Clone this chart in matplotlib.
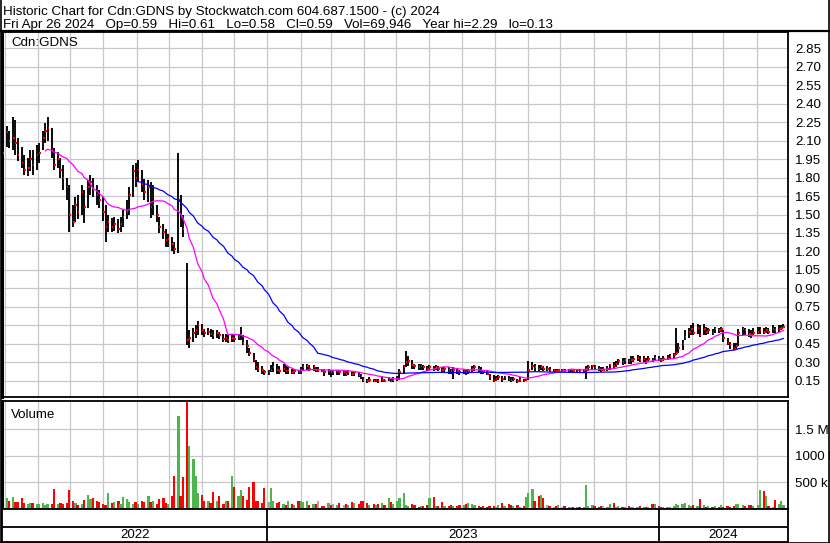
import matplotlib
matplotlib.use('Agg')
import matplotlib.pyplot as plt
import matplotlib.dates as mdates
from matplotlib.lines import Line2D
import numpy as np
import pandas as pd

plt.rcParams['font.family'] = ['Liberation Sans', 'DejaVu Sans']
plt.rcParams['font.size'] = 9

# one bar per two trading days, Apr 29 2022 .. Apr 26 2024
close = [
    2.00, 2.17, 2.10, 2.12, 2.08, 1.98, 1.92, 1.86, 1.88, 1.95,
    1.90, 1.98, 2.00, 2.12, 2.18, 2.20, 2.02, 1.90, 1.95, 1.86,
    1.80, 1.72, 1.50, 1.44, 1.58, 1.52, 1.68, 1.56, 1.72, 1.76,
    1.70, 1.66, 1.62, 1.52, 1.40, 1.44, 1.40, 1.42, 1.38, 1.42,
    1.48, 1.52, 1.66, 1.85, 1.80, 1.86, 1.75, 1.68, 1.72, 1.56,
    1.58, 1.50, 1.40, 1.36, 1.29, 1.30, 1.26, 1.22, 1.62, 1.48,
    1.38, 0.48, 0.50, 0.54, 0.56, 0.60, 0.56, 0.54, 0.55, 0.53,
    0.52, 0.54, 0.52, 0.49, 0.50, 0.48, 0.50, 0.49, 0.51, 0.52,
    0.46, 0.43, 0.38, 0.32, 0.26, 0.25, 0.24, 0.22, 0.22, 0.24,
    0.26, 0.24, 0.23, 0.25, 0.23, 0.24, 0.22, 0.23, 0.22, 0.24,
    0.26, 0.27, 0.25, 0.26, 0.24, 0.24, 0.23, 0.22, 0.23, 0.22,
    0.22, 0.23, 0.22, 0.22, 0.21, 0.22, 0.21, 0.22, 0.20, 0.19,
    0.16, 0.15, 0.16, 0.15, 0.16, 0.15, 0.16, 0.15, 0.16, 0.15,
    0.16, 0.17, 0.22, 0.26, 0.30, 0.31, 0.28, 0.27, 0.26, 0.27,
    0.26, 0.25, 0.26, 0.25, 0.26, 0.25, 0.24, 0.25, 0.24, 0.23,
    0.24, 0.23, 0.22, 0.23, 0.22, 0.23, 0.25, 0.26, 0.25, 0.23,
    0.22, 0.21, 0.18, 0.16, 0.17, 0.18, 0.17, 0.18, 0.17, 0.16,
    0.17, 0.15, 0.16, 0.15, 0.16, 0.24, 0.27, 0.26, 0.25, 0.26,
    0.25, 0.25, 0.24, 0.24, 0.23, 0.24, 0.24, 0.23, 0.24, 0.24,
    0.23, 0.24, 0.23, 0.24, 0.25, 0.26, 0.27, 0.26, 0.25, 0.24,
    0.24, 0.25, 0.28, 0.27, 0.29, 0.31, 0.30, 0.32, 0.31, 0.32,
    0.33, 0.34, 0.32, 0.33, 0.31, 0.33, 0.32, 0.34, 0.33, 0.32,
    0.33, 0.34, 0.35, 0.36, 0.38, 0.42, 0.45, 0.51, 0.55, 0.57,
    0.54, 0.58, 0.52, 0.57, 0.55, 0.56, 0.54, 0.57, 0.56, 0.57,
    0.50, 0.46, 0.44, 0.41, 0.43, 0.54, 0.57, 0.56, 0.53, 0.52,
    0.54, 0.55, 0.56, 0.55, 0.56, 0.55, 0.57, 0.56, 0.57, 0.58,
    0.59,
]
high = [
    2.24, 2.22, 2.18, 2.29, 2.27, 2.12, 2.05, 1.98, 1.96, 2.02,
    2.02, 2.06, 2.08, 2.18, 2.24, 2.29, 2.20, 2.04, 2.01, 1.96,
    1.90, 1.80, 1.74, 1.58, 1.64, 1.66, 1.74, 1.70, 1.78, 1.82,
    1.80, 1.74, 1.70, 1.64, 1.58, 1.50, 1.47, 1.48, 1.46, 1.48,
    1.54, 1.62, 1.72, 1.90, 1.92, 1.94, 1.86, 1.79, 1.78, 1.76,
    1.74, 1.58, 1.48, 1.42, 1.38, 1.34, 1.32, 1.28, 2.00, 1.66,
    1.50, 1.11, 0.56, 0.58, 0.60, 0.64, 0.61, 0.57, 0.58, 0.57,
    0.56, 0.56, 0.55, 0.53, 0.53, 0.52, 0.53, 0.52, 0.53, 0.59,
    0.52, 0.48, 0.42, 0.38, 0.32, 0.30, 0.27, 0.24, 0.24, 0.28,
    0.30, 0.29, 0.27, 0.29, 0.28, 0.27, 0.25, 0.25, 0.24, 0.26,
    0.29, 0.29, 0.28, 0.28, 0.26, 0.26, 0.25, 0.25, 0.25, 0.24,
    0.24, 0.24, 0.24, 0.23, 0.23, 0.24, 0.23, 0.23, 0.22, 0.21,
    0.18, 0.17, 0.18, 0.17, 0.17, 0.17, 0.18, 0.17, 0.18, 0.17,
    0.18, 0.19, 0.25, 0.28, 0.39, 0.35, 0.32, 0.29, 0.29, 0.29,
    0.28, 0.27, 0.28, 0.27, 0.28, 0.27, 0.26, 0.26, 0.26, 0.25,
    0.26, 0.25, 0.24, 0.25, 0.24, 0.25, 0.27, 0.28, 0.27, 0.26,
    0.24, 0.23, 0.21, 0.20, 0.19, 0.20, 0.19, 0.19, 0.19, 0.18,
    0.18, 0.17, 0.18, 0.17, 0.17, 0.31, 0.30, 0.29, 0.28, 0.28,
    0.27, 0.27, 0.26, 0.25, 0.25, 0.25, 0.25, 0.25, 0.25, 0.25,
    0.25, 0.25, 0.25, 0.25, 0.27, 0.28, 0.28, 0.28, 0.27, 0.26,
    0.26, 0.27, 0.29, 0.30, 0.31, 0.33, 0.34, 0.34, 0.33, 0.35,
    0.35, 0.36, 0.35, 0.35, 0.34, 0.35, 0.34, 0.36, 0.35, 0.34,
    0.35, 0.36, 0.37, 0.38, 0.58, 0.46, 0.48, 0.56, 0.58, 0.60,
    0.62, 0.61, 0.60, 0.61, 0.59, 0.58, 0.57, 0.59, 0.58, 0.59,
    0.56, 0.50, 0.47, 0.46, 0.46, 0.57, 0.59, 0.58, 0.57, 0.56,
    0.58, 0.59, 0.59, 0.58, 0.59, 0.58, 0.60, 0.59, 0.60, 0.60,
    0.61,
]
low = [
    1.98, 2.05, 2.04, 2.02, 1.98, 1.93, 1.88, 1.82, 1.81, 1.85,
    1.82, 1.86, 1.92, 2.02, 2.08, 2.10, 1.96, 1.86, 1.88, 1.80,
    1.70, 1.62, 1.36, 1.40, 1.44, 1.46, 1.50, 1.43, 1.55, 1.66,
    1.64, 1.58, 1.55, 1.45, 1.28, 1.36, 1.36, 1.37, 1.35, 1.36,
    1.40, 1.46, 1.50, 1.64, 1.72, 1.76, 1.68, 1.62, 1.60, 1.47,
    1.50, 1.44, 1.35, 1.30, 1.24, 1.24, 1.20, 1.18, 1.19, 1.40,
    1.32, 0.44, 0.42, 0.47, 0.50, 0.52, 0.52, 0.51, 0.52, 0.51,
    0.49, 0.50, 0.49, 0.47, 0.47, 0.46, 0.47, 0.47, 0.48, 0.48,
    0.44, 0.38, 0.35, 0.30, 0.24, 0.22, 0.21, 0.20, 0.20, 0.22,
    0.22, 0.21, 0.21, 0.22, 0.21, 0.21, 0.21, 0.21, 0.21, 0.21,
    0.23, 0.24, 0.23, 0.23, 0.22, 0.22, 0.22, 0.19, 0.20, 0.18,
    0.20, 0.20, 0.20, 0.19, 0.19, 0.20, 0.19, 0.19, 0.18, 0.17,
    0.14, 0.13, 0.14, 0.14, 0.14, 0.13, 0.14, 0.14, 0.15, 0.14,
    0.14, 0.15, 0.16, 0.21, 0.26, 0.27, 0.25, 0.25, 0.24, 0.24,
    0.24, 0.23, 0.24, 0.23, 0.24, 0.23, 0.22, 0.22, 0.21, 0.21,
    0.17, 0.21, 0.20, 0.21, 0.20, 0.21, 0.22, 0.23, 0.22, 0.21,
    0.21, 0.20, 0.16, 0.14, 0.15, 0.16, 0.14, 0.16, 0.15, 0.14,
    0.15, 0.13, 0.14, 0.14, 0.15, 0.16, 0.24, 0.23, 0.23, 0.24,
    0.23, 0.23, 0.22, 0.22, 0.22, 0.22, 0.22, 0.22, 0.22, 0.22,
    0.22, 0.22, 0.22, 0.22, 0.17, 0.23, 0.24, 0.24, 0.23, 0.22,
    0.23, 0.23, 0.24, 0.25, 0.26, 0.28, 0.28, 0.29, 0.29, 0.29,
    0.30, 0.31, 0.30, 0.30, 0.29, 0.30, 0.30, 0.31, 0.31, 0.30,
    0.31, 0.32, 0.33, 0.34, 0.36, 0.38, 0.40, 0.48, 0.50, 0.52,
    0.52, 0.53, 0.51, 0.52, 0.52, 0.53, 0.52, 0.54, 0.54, 0.55,
    0.47, 0.44, 0.41, 0.40, 0.40, 0.43, 0.52, 0.52, 0.51, 0.50,
    0.52, 0.53, 0.53, 0.53, 0.54, 0.53, 0.54, 0.54, 0.55, 0.56,
    0.58,
]
# volume in thousands of shares
volume_k = [
    330, 200, 150, 215, 130, 120, 200, 110, 90, 100,
    110, 90, 80, 100, 70, 80, 90, 370, 90, 100,
    80, 100, 350, 150, 110, 60, 90, 160, 250, 170,
    200, 150, 120, 90, 60, 300, 100, 120, 150, 80,
    215, 180, 120, 90, 120, 80, 150, 130, 230, 120,
    150, 90, 170, 200, 110, 80, 240, 611, 1740, 240,
    600, 2100, 1180, 940, 610, 300, 260, 150, 150, 100,
    310, 150, 240, 90, 150, 150, 610, 400, 230, 340,
    240, 160, 400, 500, 150, 150, 100, 390, 120, 390,
    150, 100, 130, 80, 60, 150, 90, 60, 150, 140,
    120, 150, 70, 80, 90, 150, 50, 40, 110, 70,
    90, 60, 110, 70, 90, 60, 120, 100, 80, 150,
    140, 100, 60, 80, 70, 90, 110, 60, 200, 130,
    80, 150, 200, 300, 60, 50, 80, 60, 30, 50,
    40, 60, 200, 215, 50, 40, 120, 50, 40, 60,
    50, 40, 60, 60, 80, 100, 80, 60, 50, 30,
    40, 30, 40, 50, 30, 60, 100, 50, 80, 60,
    40, 70, 30, 40, 215, 300, 360, 150, 240, 260,
    200, 60, 40, 30, 40, 60, 30, 50, 30, 30,
    30, 25, 30, 20, 450, 40, 60, 40, 30, 40,
    40, 30, 80, 100, 30, 40, 25, 30, 40, 30,
    30, 20, 40, 30, 30, 20, 80, 90, 40, 30,
    20, 30, 20, 40, 90, 60, 80, 100, 60, 50,
    60, 40, 170, 70, 30, 40, 30, 50, 30, 70,
    30, 40, 30, 40, 90, 80, 60, 40, 70, 60,
    50, 70, 350, 330, 230, 40, 30, 160, 80, 140,
    70,
]

price_ticks = np.round(np.arange(0.15, 2.86, 0.15), 2)
vol_ticks = [500, 1000, 1500]
vol_labels = ['500 k', '1000 k', '1.5 M']
years = ['2022', '2023', '2024']

n = len(close)
dates = pd.bdate_range(end='2024-04-26', periods=2 * n - 1)[::2]
px = pd.Series(close, index=dates)
ma30 = px.rolling(15).mean()   # 30 trading days
ma90 = px.rolling(45).mean()   # 90 trading days

chg = np.sign(np.diff(np.r_[close[0] - 0.01, close]))
vcol = np.where(chg > 0, '#4CB54C', np.where(chg < 0, '#FF0000', '#A8A8A8'))

W, H = 830, 543
fig = plt.figure(figsize=(W / 100, H / 100), dpi=100)


def box(x0, y0, x1, y1):
    return [x0 / W, 1 - y1 / H, (x1 - x0) / W, (y1 - y0) / H]


t0 = pd.Timestamp('2022-04-28 12:00')
t1 = pd.Timestamp('2024-04-30 07:00')
grid_kw = dict(color='#C8C8C8', lw=0.9)

ax = fig.add_axes(box(2, 32, 788, 397))
axv = fig.add_axes(box(2, 401, 788, 508.5))
axd = fig.add_axes(box(2, 508.5, 788, 542))

# price panel
ax.vlines(dates, low, high, color='black', lw=1.35, zorder=2)
ax.hlines(close, dates, dates + pd.Timedelta(hours=34), color='red', lw=1.6, zorder=3)
ax.plot(dates, ma30, color='#FF00FF', lw=0.9, zorder=4)
ax.plot(dates, ma90, color='#0000FF', lw=0.9, zorder=4)
ax.set_ylim(0.02, 2.98)
ax.set_yticks(price_ticks)
ax.set_yticklabels(['%.2f' % v for v in price_ticks])
ax.text(9 / 786, 1 - 14 / 365, 'Cdn:GDNS', transform=ax.transAxes, va='baseline', fontsize=9.6)

# volume panel
axv.bar(dates, volume_k, width=2.1, color=vcol, zorder=2)
axv.set_ylim(0, 2030)
axv.set_yticks(vol_ticks)
axv.set_yticklabels(vol_labels)
axv.text(9 / 786, 1 - 17 / 107.5, 'Volume', transform=axv.transAxes, va='baseline', fontsize=9.6)

for a in (ax, axv):
    a.set_xlim(t0, t1)
    a.xaxis.set_major_locator(mdates.MonthLocator())
    a.grid(True, **grid_kw)
    a.set_axisbelow(True)
    a.yaxis.tick_right()
    a.tick_params(axis='x', length=0, labelbottom=False)
    a.tick_params(axis='y', length=0, pad=5, labelsize=9.6)
    for s in a.spines.values():
        s.set_color('black')
        s.set_linewidth(1.3)
    a.spines['left'].set_linewidth(2.2)

# year strip
axd.set_xlim(t0, t1)
axd.set_ylim(0, 1)
axd.set_xticks([])
axd.set_yticks([])
for s in axd.spines.values():
    s.set_linewidth(1.3)
axd.axhline(0.455, color='black', lw=1.3)
edges = [t0] + [pd.Timestamp(y + '-01-01') for y in years[1:]] + [t1]
for e in edges[1:-1]:
    axd.axvline(e, color='black', lw=1.3)
for i, y in enumerate(years):
    mid = edges[i] + (edges[i + 1] - edges[i]) / 2
    axd.text(mid, 0.22, y, ha='center', va='center', fontsize=9.6)

# header
fig.text(3 / W, 1 - 15 / H, 'Historic Chart for Cdn:GDNS by Stockwatch.com 604.687.1500 - (c) 2024',
         va='baseline', fontsize=9.6)
fig.text(3 / W, 1 - 28 / H,
         'Fri Apr 26 2024   Op=0.59   Hi=0.61   Lo=0.58   Cl=0.59   Vol=69,946   Year hi=2.29   lo=0.13',
         va='baseline', fontsize=9.6)
fig.add_artist(Line2D([0, 828.5 / W], [1 - 31 / H] * 2, color='black', lw=1.6, transform=fig.transFigure))
fig.add_artist(Line2D([828.5 / W] * 2, [0, 1], color='black', lw=1.2, transform=fig.transFigure))
fig.add_artist(Line2D([0.5 / W] * 2, [0, 1], color='black', lw=1.2, transform=fig.transFigure))
fig.add_artist(Line2D([0, 828.5 / W], [0.5 / H] * 2, color='black', lw=1.2, transform=fig.transFigure))

fig.savefig('out.png', dpi=100)
